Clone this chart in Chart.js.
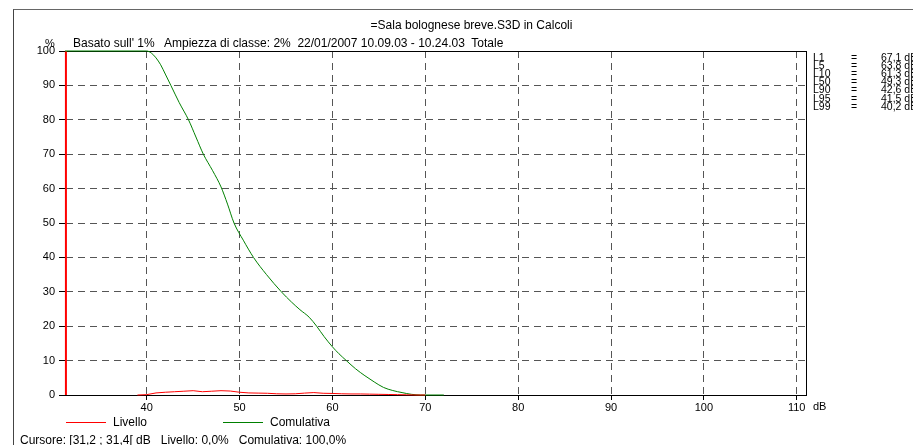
<!DOCTYPE html>
<html>
<head>
<meta charset="utf-8">
<script src="https://cdn.jsdelivr.net/npm/chart.js@4/dist/chart.umd.min.js"></script>
<style>
  body { margin: 0; background: #fff; font-family: "Liberation Sans", Arial, sans-serif; color: #000; }
  #wrap { position: relative; width: 913px; height: 445px; overflow: hidden; background: #fff; }
  #frame { position: absolute; left: 13px; top: 9px; width: 920px; height: 460px; border-top: 1px solid #666; border-left: 1px solid #444; }
  #chartBox { position: absolute; left: 0; top: 0; width: 913px; height: 445px; }
  .txt { position: absolute; white-space: nowrap; font-size: 12px; line-height: 14px; }
  .stat { position: absolute; white-space: nowrap; font-size: 10.5px; line-height: 10px; }
  .swatch { position: absolute; height: 1px; width: 40px; }
</style>
</head>
<body>
<div id="wrap">
  <div id="frame"></div>
  <div id="chartBox"><canvas id="chart"></canvas></div>
  <div class="txt" id="title" style="left:13px;width:917px;top:18px;text-align:center"></div>
  <div class="txt" id="subtitle" style="left:73px;top:36px"></div>
  <div class="txt" style="left:45px;top:36px;font-size:11px">%</div>
  <div class="txt" style="left:813px;top:399px;font-size:11px">dB</div>
  <div id="legend"></div>
  <div class="txt" id="cursor" style="left:20px;top:433px"></div>
  <div id="stats"></div>
</div>
<script>
// axis range
const xMin = 31.2;
const xMax = 111;
const cursorDb = 31.3;

// Livello (distribution, %)
const levelDb  = [39, 40, 41, 42, 43, 44, 45, 46, 47, 48, 49, 50, 51, 52, 53, 54, 55, 56, 57, 58, 59, 60, 61, 62, 63, 64, 65, 66, 67, 68, 69, 70];
const levelPct = [0, 0.1, 0.6, 0.8, 0.95, 1.1, 1.25, 0.95, 1.1, 1.25, 1.15, 0.8, 0.6, 0.55, 0.5, 0.35, 0.3, 0.35, 0.55, 0.7, 0.5, 0.45, 0.35, 0.3, 0.3, 0.25, 0.2, 0.15, 0.1, 0.05, 0, 0];

// Comulativa (%)
const cumDb  = [31.2, 40.0, 40.5, 41.0, 41.5, 42.0, 42.6, 43.5, 44.5, 45.3, 46.1, 47.1, 48.0, 48.7, 49.4, 50.4, 51.5, 52.9, 54.5, 55.6, 56.5, 57.5, 58.3, 59.1, 60.0, 60.7, 61.5, 62.5, 63.5, 64.5, 65.5, 66.5, 67.5, 68.5, 69.5, 72.0];
const cumPct = [100, 100, 99.4, 98, 96, 93.3, 90, 85, 80, 75, 70, 65.2, 60.5, 55.5, 50, 45, 40, 35, 30, 27, 24.8, 22.6, 20, 17, 14, 12, 10, 7.6, 5.6, 3.8, 2.2, 1.3, 0.7, 0.2, 0, 0];

// statistics shown on the right
const statNames  = ["L1", "L5", "L10", "L50", "L90", "L95", "L99"];
const statValues = [67.1, 63.8, 61.3, 49.3, 42.6, 41.5, 40.2];

const redColor = "#ff0000";
const greenColor = "#008000";

document.getElementById("title").textContent = "=Sala bolognese breve.S3D in Calcoli";
document.getElementById("subtitle").textContent =
  "Basato sull' 1%\u00a0\u00a0 Ampiezza di classe: 2%\u00a0 22/01/2007 10.09.03 - 10.24.03\u00a0 Totale";
document.getElementById("cursor").textContent =
  "Cursore: [31,2 ; 31,4[ dB\u00a0\u00a0 Livello: 0,0%\u00a0\u00a0 Comulativa: 100,0%";

// legend
const legend = document.getElementById("legend");
[["Livello", redColor, 66, 113], ["Comulativa", greenColor, 223, 270]].forEach(([name, col, lx, tx]) => {
  const sw = document.createElement("div");
  sw.className = "swatch";
  sw.style.cssText = `left:${lx}px;top:422px;background:${col}`;
  legend.appendChild(sw);
  const t = document.createElement("div");
  t.className = "txt";
  t.style.cssText = `left:${tx}px;top:415px`;
  t.textContent = name;
  legend.appendChild(t);
});

// L-values
const stats = document.getElementById("stats");
statNames.forEach((n, i) => {
  const top = Math.round(52 + i * 8.1);
  const fmt = statValues[i].toFixed(1).replace(".", ",") + " dB";
  [[n, 813], ["=", 851], [fmt, 881]].forEach(([s, x]) => {
    const d = document.createElement("div");
    d.className = "stat";
    d.style.cssText = `left:${x}px;top:${top}px`;
    d.textContent = s;
    stats.appendChild(d);
  });
});

const boxPlugin = {
  id: "plotBox",
  beforeDatasetsDraw(chart) {
    const { ctx, chartArea: a } = chart;
    ctx.save();
    ctx.strokeStyle = "#000";
    ctx.lineWidth = 1;
    ctx.setLineDash([]);
    const l = Math.round(a.left) + 0.5, t = Math.round(a.top) + 0.5;
    const r = Math.round(a.right) + 0.5, b = Math.round(a.bottom) + 0.5;
    ctx.strokeRect(l, t, r - l, b - t);
    ctx.restore();
  }
};

const ctx = document.getElementById("chart").getContext("2d");
new Chart(ctx, {
  type: "line",
  data: {
    datasets: [
      {
        label: "Livello",
        data: levelDb.map((x, i) => ({ x, y: levelPct[i] })),
        borderColor: redColor,
        borderWidth: 1,
        pointRadius: 0,
        clip: false,
      },
      {
        label: "Comulativa",
        data: cumDb.map((x, i) => ({ x, y: cumPct[i] })),
        borderColor: greenColor,
        borderWidth: 1,
        pointRadius: 0,
        cubicInterpolationMode: "monotone",
        clip: false,
      },
      {
        label: "cursor",
        data: [{ x: cursorDb, y: 0 }, { x: cursorDb, y: 100 }],
        borderColor: redColor,
        borderWidth: 2,
        pointRadius: 0,
        clip: false,
      },
    ],
  },
  options: {
    responsive: true,
    maintainAspectRatio: false,
    animation: false,
    events: [],
    layout: { padding: { left: 0, top: 51, right: 107, bottom: 30 } },
    plugins: {
      legend: { display: false },
      tooltip: { enabled: false },
    },
    scales: {
      x: {
        type: "linear",
        min: xMin,
        max: xMax,
        afterFit: (s) => { s.height = 20; },
        ticks: {
          stepSize: 10,
          includeBounds: false,
          color: "#000",
          padding: 1,
          maxRotation: 0,
          font: { family: "'Liberation Sans', Arial, sans-serif", size: 11 },
        },
        grid: { color: "#555", tickColor: "#000", tickLength: 5, tickBorderDash: [] },
        border: { color: "#000", dash: [7, 5] },
      },
      y: {
        min: 0,
        max: 100,
        afterFit: (s) => { s.width = 65; },
        ticks: {
          stepSize: 10,
          color: "#000",
          padding: 4,
          font: { family: "'Liberation Sans', Arial, sans-serif", size: 11 },
        },
        grid: { color: "#555", tickColor: "#000", tickLength: 6, tickBorderDash: [] },
        border: { color: "#000", dash: [7, 5] },
      },
    },
  },
  plugins: [boxPlugin],
});
</script>
</body>
</html>
